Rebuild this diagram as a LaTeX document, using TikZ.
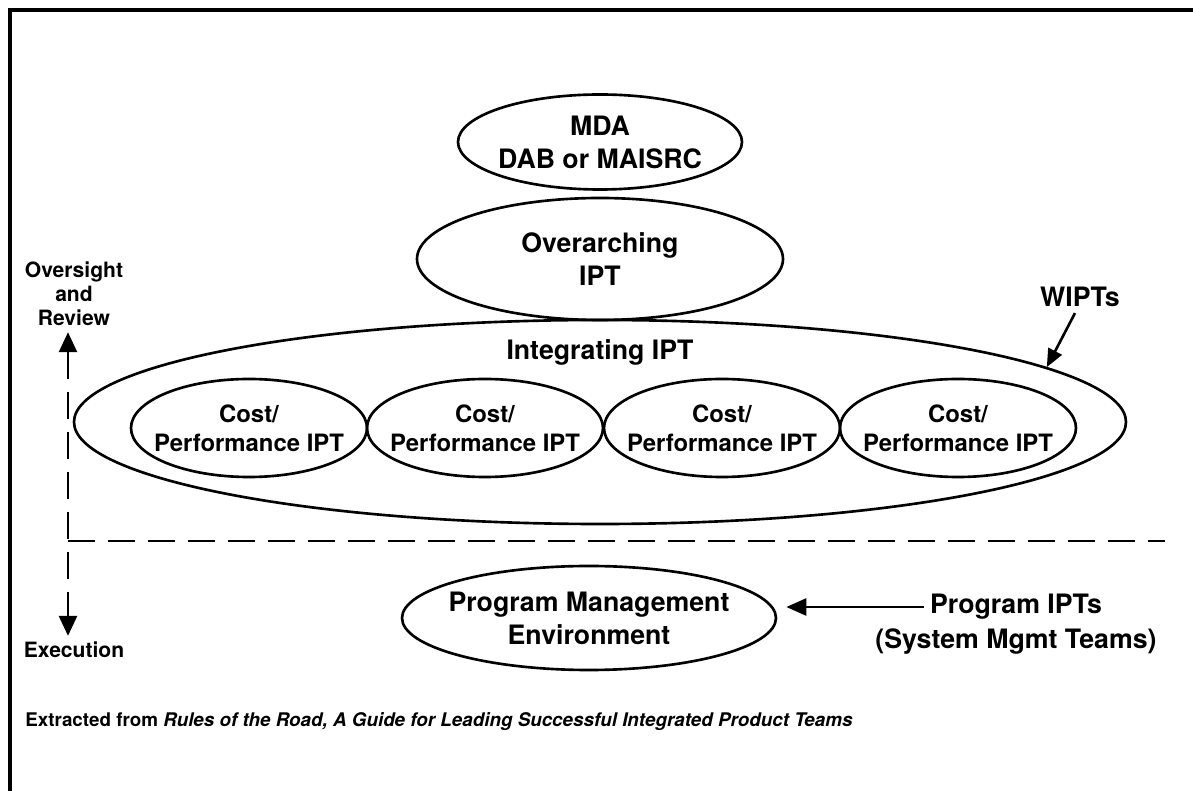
\documentclass[tikz,border=0pt]{standalone}
\usepackage{fontspec}
\setmainfont{TeX Gyre Heros}
\usetikzlibrary{shapes.geometric,arrows.meta}

\begin{document}
\begin{tikzpicture}[x=0.2mm,y=-0.2mm,
  team/.style={draw,ellipse,line width=1.5pt,inner sep=0pt},
  lbl/.style={font=\bfseries\fontsize{15.2}{18.8}\selectfont,align=center},
  costlbl/.style={font=\bfseries\fontsize{13.6}{16.5}\selectfont,align=center},
  side/.style={font=\bfseries\fontsize{12}{13.7}\selectfont,align=center},
  pointer/.style={-{Triangle[length=4mm,width=3.4mm]},line width=1.5pt},
  guide/.style={line width=1.5pt,dash pattern=on 5.4mm off 2.6mm}
]
  \useasboundingbox (0,0) rectangle (1193,791);
  % frame (top and left only)
  \draw[line width=1.8pt] (10,791) -- (10,10) -- (1193,10);

  % review levels
  \node[team,minimum width=56.8mm,minimum height=19mm] (mda) at (600,142) {};
  \node[lbl] (mdatxt) at (mda) {MDA\\DAB or MAISRC};
  \node[team,minimum width=73.2mm,minimum height=24.4mm] (oipt) at (600,259) {};
  \node[lbl] (oipttxt) at (oipt) {Overarching\\IPT};
  \node[team,minimum width=210.4mm,minimum height=40.8mm] (integ) at (600,422) {};
  \node[lbl] (integlbl) at (600,352) {Integrating IPT};
  \foreach \x [count=\i] in {249,485,722,958}{
    \node[team,minimum width=47.2mm,minimum height=19.6mm] (cost\i) at (\x,428) {};
    \node[costlbl] (costtxt\i) at (cost\i) {Cost/\\Performance IPT};
  }

  \node[lbl] (wipts) at (1080,297) {WIPTs};
  \draw[pointer,-{Triangle[length=3.6mm,width=3mm]}] ([xshift=-1mm]wipts.south) -- (integ.7.6);

  % oversight / execution axis
  \node[side] (ovr) at (74,294) {Oversight\\and\\Review};
  \node[side] (exe) at (74,650) {Execution};
  \draw[guide,{Triangle[length=4mm,width=3.6mm]}-{Triangle[length=4mm,width=3.6mm]}]
    ([xshift=-1.2mm]ovr.south) -- ([xshift=-1.2mm]ovr.south |- exe.north);
  \coordinate (split) at ([xshift=-1.2mm]ovr.south |- 0,541);
  \coordinate (splitend) at (1165,541);
  \draw[guide] (split) -- (splitend);

  % program level
  \node[team,minimum width=74.8mm,minimum height=20.8mm] (pme) at (589,618) {};
  \node[lbl] (pmetxt) at (pme) {Program Management\\Environment};
  \node[lbl] (progipt) at (1016,607) {Program IPTs};
  \node[lbl] (sysmgmt) at (1016,642) {(System Mgmt Teams)};
  \draw[pointer] (progipt.west) -- ([xshift=1.8mm]pme.east |- progipt.west);

  \node[font=\bfseries\fontsize{10.7}{12}\selectfont,anchor=west,inner sep=0pt] (src) at (25,722)
    {Extracted from \textit{Rules of the Road, A Guide for Leading Successful Integrated Product Teams}};
\end{tikzpicture}
\end{document}
